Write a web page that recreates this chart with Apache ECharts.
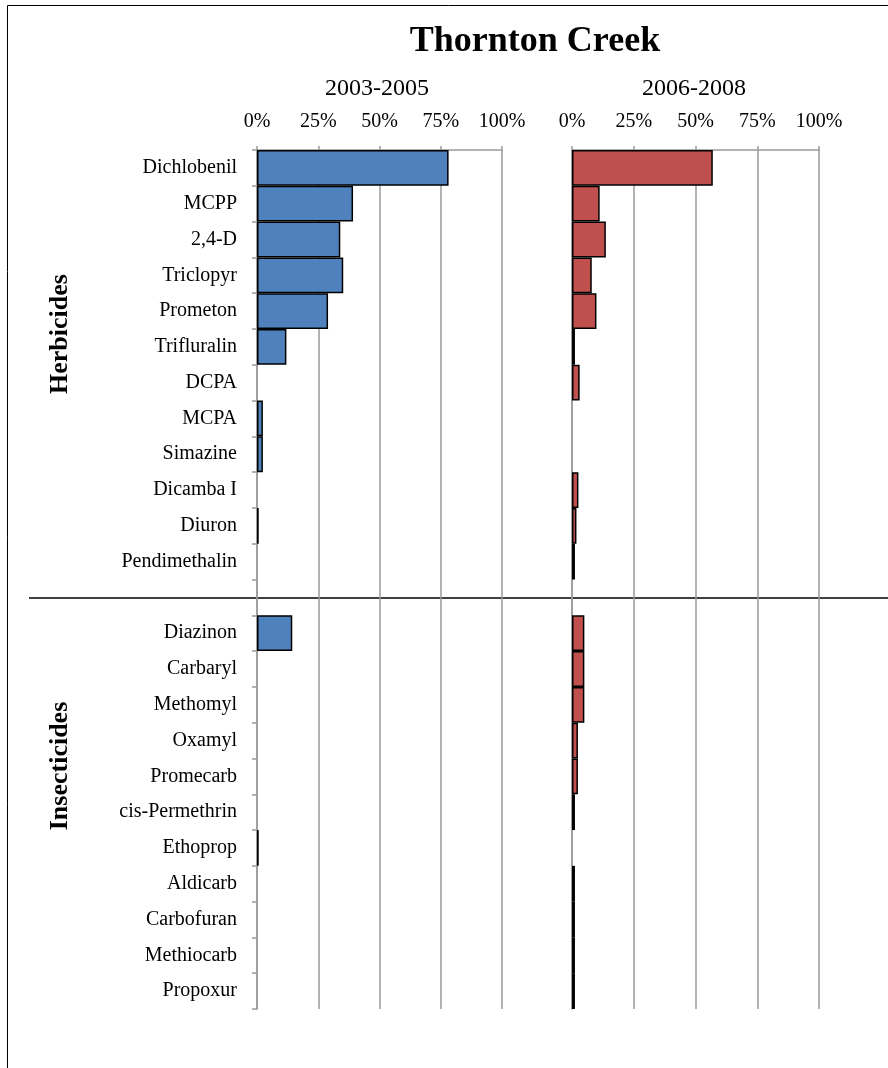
<!DOCTYPE html>
<html>
<head>
<meta charset="utf-8">
<script src="https://cdn.jsdelivr.net/npm/echarts@6/dist/echarts.min.js"></script>
<style>
html,body{margin:0;padding:0;background:#fff;}
#chart{width:888px;height:1068px;}
</style>
</head>
<body>
<div id="chart"></div>
<script>
const chartTitle = 'Thornton Creek';
const categories = ['Dichlobenil','MCPP','2,4-D','Triclopyr','Prometon','Trifluralin','DCPA','MCPA','Simazine','Dicamba I','Diuron','Pendimethalin','',
  'Diazinon','Carbaryl','Methomyl','Oxamyl','Promecarb','cis-Permethrin','Ethoprop','Aldicarb','Carbofuran','Methiocarb','Propoxur'];
const period1 = [78.2,39.2,34,35.2,29,12,0,2.4,2.4,0,0.7,0,0,14.4,0,0,0,0,0,0.7,0,0,0,0];
const period2 = [57,11.2,13.7,8,9.9,1.2,3.1,0,0,2.6,1.8,1.2,0,5,5,5,2.4,2.4,1.2,0,1.2,1.2,1.2,1.2];
const tickLabels = ['0%','25%','50%','75%','100%'];
const panelTitles = ['2003-2005','2006-2008'];
const groupLabels = ['Herbicides','Insecticides'];

const FONT = '"Liberation Serif", "Times New Roman", serif';
const chart = echarts.init(document.getElementById('chart'));

const grids = [
  {left:257, top:150, width:245, height:859},
  {left:572, top:150, width:247, height:859}
];

function xAx(i){
  return {
    type:'value', gridIndex:i, position:'top', min:0, max:100, interval:25,
    axisLine:{show:true, lineStyle:{color:'#9a9a9a', width:1.5}},
    axisTick:{show:true, length:4, lineStyle:{color:'#9a9a9a', width:1.5}},
    splitLine:{show:true, lineStyle:{color:'#9a9a9a', width:1.5}},
    axisLabel:{color:'#000', fontFamily:FONT, fontSize:20, margin:18,
      formatter:v => tickLabels[Math.round(v/25)]}
  };
}
function yAx(i){
  return {
    type:'category', gridIndex:i, inverse:true, data:categories,
    axisLine:{show:true, lineStyle:{color:'#9a9a9a', width:1.5}},
    axisTick:{show:i===0, length:5, lineStyle:{color:'#9a9a9a', width:1.5}},
    axisLabel:{show:i===0, color:'#000', fontFamily:FONT, fontSize:20, margin:20, interval:0},
    splitLine:{show:false}
  };
}
const toData = arr => arr.map(v => v > 0 ? v : '-');

chart.setOption({
  backgroundColor:'#fff',
  animation:false,
  grid:grids,
  xAxis:[xAx(0), xAx(1)],
  yAxis:[yAx(0), yAx(1)],
  series:[
    {type:'bar', xAxisIndex:0, yAxisIndex:0, data:toData(period1), barCategoryGap:'0%',
     itemStyle:{color:'#4F81BD', borderColor:'#000', borderWidth:1.5}},
    {type:'bar', xAxisIndex:1, yAxisIndex:1, data:toData(period2), barCategoryGap:'0%',
     itemStyle:{color:'#C0504D', borderColor:'#000', borderWidth:1.5}}
  ],
  graphic:[
    {type:'rect', silent:true, z:-1, shape:{x:7.5, y:5.5, width:900, height:1100},
     style:{fill:null, stroke:'#000', lineWidth:1}},
    {type:'line', silent:true, shape:{x1:29, y1:598, x2:888, y2:598},
     style:{stroke:'#000', lineWidth:1.5}},
    {type:'text', x:535, y:42, style:{text:chartTitle, font:'bold 36px ' + FONT, fill:'#000', align:'center', verticalAlign:'middle'}},
    {type:'text', x:377, y:89, style:{text:panelTitles[0], font:'24px ' + FONT, fill:'#000', align:'center', verticalAlign:'middle'}},
    {type:'text', x:694, y:89, style:{text:panelTitles[1], font:'24px ' + FONT, fill:'#000', align:'center', verticalAlign:'middle'}},
    {type:'text', x:60, y:334, rotation:Math.PI/2, style:{text:groupLabels[0], font:'bold 26px ' + FONT, fill:'#000', align:'center', verticalAlign:'middle'}},
    {type:'text', x:60, y:766, rotation:Math.PI/2, style:{text:groupLabels[1], font:'bold 26px ' + FONT, fill:'#000', align:'center', verticalAlign:'middle'}}
  ]
});
</script>
</body>
</html>
